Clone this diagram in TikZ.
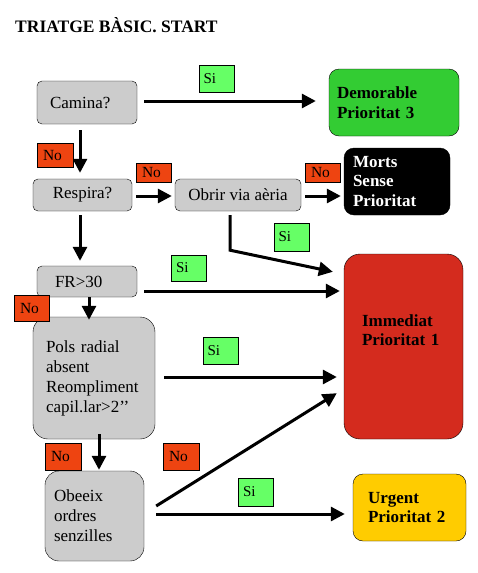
\documentclass[tikz,border=0pt]{standalone}
\usepackage{fontspec}
\setmainfont{Liberation Serif}
\usetikzlibrary{arrows.meta}

\definecolor{grisbox}{HTML}{CCCCCC}
\definecolor{verdsi}{HTML}{66FF66}
\definecolor{taronjano}{HTML}{EE4411}
\definecolor{verdp3}{HTML}{33CC33}
\definecolor{vermellp1}{HTML}{D42B1E}
\definecolor{grocp2}{HTML}{FFCC00}

\tikzset{
  pregunta/.style={draw, fill=grisbox, rounded corners=5pt, inner sep=0pt, font=\fontsize{17}{20}\selectfont},
  prioritat/.style={draw, rounded corners=10pt, inner sep=0pt, font=\bfseries\fontsize{17}{19.5}\selectfont},
  etiqsi/.style={draw, fill=verdsi, minimum height=27pt, text width=26pt, inner xsep=4.5pt, inner ysep=0pt, align=left, font=\fontsize{15}{16}\selectfont},
  etiqno/.style={draw, fill=taronjano, text width=24pt, inner xsep=6pt, inner ysep=0pt, align=left, font=\fontsize{15.5}{16}\selectfont},
  fletxa/.style={line width=3pt, -{Triangle[length=14pt,width=14pt]}}
}

\begin{document}
\begin{tikzpicture}[x=1pt, y=-1pt]
\useasboundingbox (0,0) rectangle (477,573);

\draw (15,32) node (titol) [anchor=base west, inner sep=0pt, font=\bfseries\fontsize{17.5}{20}\selectfont] {TRIATGE BÀSIC. START};

\draw (87,102.5)   node (camina)   [pregunta, minimum height=43pt, text width=74pt, inner xsep=13pt, align=left] {Camina?};
\draw (82.5,195)   node (respira)  [pregunta, minimum width=99pt, minimum height=32pt, align=center] {Respira?};
\draw (238,195)    node (obrir)    [pregunta, minimum width=126pt, minimum height=32pt, align=center] {Obrir via aèria};
\draw (87,281.5)   node (fr)       [pregunta, minimum height=31pt, text width=64pt, inner xsep=18pt, align=left] {FR>30};
\draw (94,378)     node (pols)     [pregunta, rounded corners=15pt, minimum height=122pt, text width=96pt, inner xsep=13pt, align=left] {Pols radial\\absent\\Reompliment\\capil.lar>2’’};
\draw (94.5,516)   node (obeeix)   [pregunta, rounded corners=14pt, minimum height=90pt, text width=81pt, inner xsep=9pt, align=left] {Obeeix\\ordres\\senzilles};

\draw (394,102.5)  node (demorable) [prioritat, fill=verdp3, minimum height=67pt, text width=114pt, inner xsep=8pt, align=left] {Demorable\\Prioritat 3};
\draw (397,181.5)  node (morts)     [prioritat, fill=black, text=white, minimum height=67pt, text width=88pt, inner xsep=9pt, align=left] {Morts\\Sense\\Prioritat};
\draw (403.5,346.5) node (immediat) [prioritat, fill=vermellp1, minimum width=119pt, minimum height=185pt, rounded corners=16pt] {};
\draw ([yshift=16.5pt]immediat.center) node (immediattxt) [font=\bfseries\fontsize{17}{19.5}\selectfont, text width=83pt, inner sep=0pt, align=left] {Immediat\\Prioritat 1};
\draw (409.5,507.5) node (urgent)   [prioritat, fill=grocp2, minimum height=67pt, text width=83pt, inner xsep=15pt, align=left] {Urgent\\Prioritat 2};

\draw[fletxa, shorten <=7pt, shorten >=13pt] ([yshift=1.5pt]camina.east) -- ([yshift=1.5pt]demorable.west);
\draw[fletxa] ([xshift=-7pt,yshift=-6pt]camina.south) -- ([xshift=-2.5pt,yshift=6pt]respira.north);
\draw[fletxa, shorten <=4pt, shorten >=3pt] ([yshift=-1pt]respira.east) -- ([yshift=-1pt]obrir.west);
\draw[fletxa, shorten <=4pt, shorten >=3pt] ([yshift=-1pt]obrir.east) -- ([yshift=-1pt]obrir.east -| morts.west);
\draw[fletxa] ([xshift=-8pt,yshift=-4pt]obrir.south) -- ++(0,35) -- ([xshift=-11pt,yshift=-18pt]immediat.north west);
\draw[fletxa] ([xshift=-2.5pt,yshift=-4pt]respira.south) -- ([xshift=-7pt,yshift=5pt]fr.north);
\draw[fletxa, shorten <=7pt, shorten >=4pt] ([yshift=-9.5pt]fr.east) -- ([yshift=-9.5pt]fr.east -| immediat.west);
\draw[fletxa] ([xshift=2pt]fr.south) -- ([xshift=-5pt,yshift=-3pt]pols.north);
\draw[fletxa, shorten <=9pt, shorten >=7pt] ([yshift=1pt]pols.east) -- ([yshift=1pt]pols.east -| immediat.west);
\draw[fletxa] ([xshift=5pt,yshift=5pt]pols.south) -- ([xshift=4.5pt,yshift=1pt]obeeix.north);
\draw[fletxa] ([xshift=12pt,yshift=10pt]obeeix.east) -- ([xshift=-7pt,yshift=46pt]immediat.south west);
\draw[fletxa] ([xshift=12pt,yshift=2pt]obeeix.east) -- ([xshift=-8pt,yshift=-6.5pt]urgent.west);

\draw (216.5,78.5) node (si1) [etiqsi] {Si};
\draw (291.5,237)  node (si2) [etiqsi, minimum height=28pt] {Si};
\draw (189,268)    node (si3) [etiqsi, minimum height=26pt] {Si};
\draw (220.5,350.5) node (si4) [etiqsi] {Si};
\draw (256,492)    node (si5) [etiqsi, minimum height=28pt] {Si};

\draw (55,155)     node (no1) [etiqno, minimum height=24pt] {No};
\draw (153.5,172.5) node (no2) [etiqno, minimum height=19pt, text width=23pt] {No};
\draw (322.5,172.5) node (no3) [etiqno, minimum height=19pt, text width=23pt] {No};
\draw (31.5,308.5) node (no4) [etiqno, minimum height=26pt, text width=23pt] {No};
\draw (63,456.5)   node (no5) [etiqno, minimum height=27pt] {No};
\draw (181,456.5)  node (no6) [etiqno, minimum height=27pt] {No};
\end{tikzpicture}
\end{document}
